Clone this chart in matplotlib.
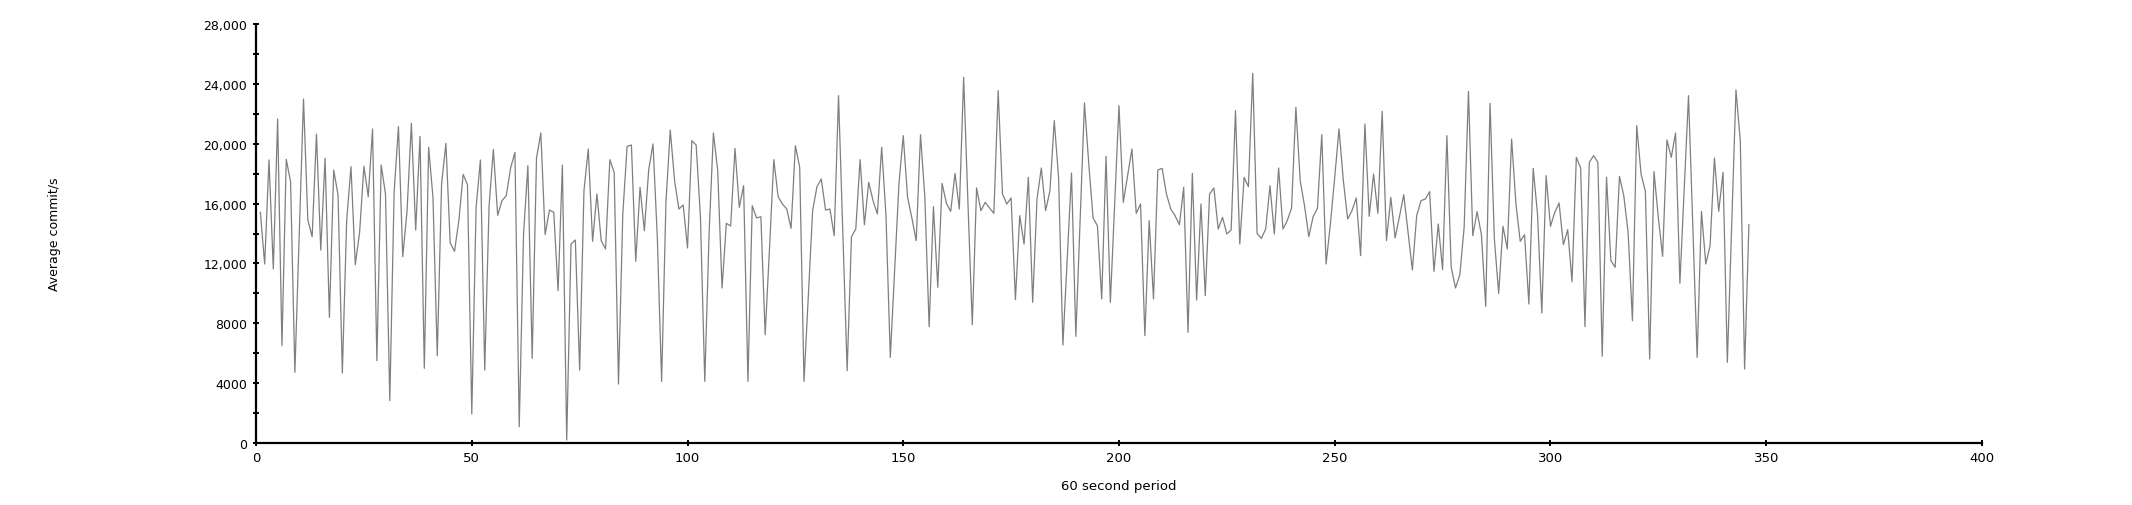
import numpy as np
import matplotlib
matplotlib.use("Agg")
import matplotlib.pyplot as plt
from matplotlib.ticker import FuncFormatter, MultipleLocator

# Average commits per second for each 60 second period
commits = [
    15415, 11962, 18912, 11628, 21652, 6504, 18957, 17464, 4722, 13800,
    22988, 14902, 13788, 20649, 12897, 19023, 8397, 18243, 16573, 4678,
    14857, 18467, 11917, 14078, 18489, 16462, 20983, 5502, 18578, 16640,
    2829, 16751, 21139, 12452, 15526, 21362, 14234, 20493, 4989, 19758,
    16417, 5836, 17308, 20025, 13365, 12808, 14857, 17954, 17264, 1938,
    15749, 18912, 4878, 15793, 19624, 15214, 16194, 16528, 18377, 19423,
    1091, 13967, 18533, 5658, 19045, 20716, 13922, 15570, 15415, 10180,
    18578, 200, 13298, 13566, 4878, 16862, 19647, 13477, 16640, 13521,
    12964, 18935, 18087, 3943, 15303, 19825, 19914, 12140, 17085, 14189,
    18243, 19981, 13744, 4121, 16083, 20917, 17531, 15637, 15905, 13031,
    20204, 19914, 15080, 4121, 14000, 20716, 18199, 10358, 14679, 14501,
    19691, 15749, 17197, 4121, 15860, 15036, 15125, 7240, 13000, 18935,
    16462, 15972, 15637, 14345, 19870, 18422, 4121, 9800, 15526, 17130,
    17642, 15570, 15637, 13855, 23212, 14000, 4834, 13788, 14300, 18935,
    14590, 17419, 16194, 15303, 19758, 15192, 5725, 11500, 17308, 20538,
    16417, 15036, 13521, 20605, 16462, 7774, 15793, 10402, 17352, 16015,
    15481, 18020, 15637, 24436, 16000, 7908, 17041, 15526, 16083, 15704,
    15348, 23545, 16640, 15972, 16373, 9578, 15192, 13298, 17753, 9400,
    16306, 18377, 15526, 16862, 21540, 17753, 6549, 12300, 18043, 7128,
    14900, 22721, 18645, 15036, 14523, 9623, 19156, 9400, 16000, 22543,
    16083, 17866, 19647, 15348, 15972, 7173, 14857, 9623, 18243, 18354,
    16640, 15637, 15192, 14590, 17085, 7395, 18020, 9556, 15972, 9846,
    16640, 17041, 14301, 15080, 13967, 14234, 22209, 13298, 17753, 17130,
    24703, 14011, 13677, 14301, 17197, 13967, 18377, 14301, 14857, 15704,
    22431, 17531, 15860, 13788, 15125, 15682, 20605, 11962, 14635, 17753,
    20983, 17531, 14969, 15526, 16373, 12519, 21318, 15147, 17976, 15348,
    22164, 13521, 16417, 13699, 15125, 16595, 14078, 11561, 15192, 16194,
    16306, 16796, 11472, 14635, 11583, 20538, 11739, 10358, 11249, 14412,
    23501, 13855, 15459, 13922, 9133, 22699, 13633, 10001, 14479, 12964,
    20315, 15972, 13477, 13922, 9289, 18354, 15303, 8687, 17866, 14479,
    15415, 16038, 13254, 14256, 10781, 19090, 18377, 7774, 18756, 19201,
    18756, 5792, 17753, 12185, 11739, 17820, 16528, 14078, 8175, 21206,
    17976, 16818, 5613, 18132, 15080, 12474, 20248, 19090, 20716, 10670,
    17000, 23212, 14500, 5725, 15481, 11962, 13187, 19045, 15481, 18087,
    5390, 14500, 23590, 20204, 4945, 14590,
]
periods = np.arange(1, len(commits) + 1)

x_label = "60 second period"
y_label = "Average commit/s"


def y_fmt(v, pos):
    # no thousands separator below 10,000
    if v >= 10000:
        return f"{int(v):,}"
    return f"{int(v)}"


fig = plt.figure(figsize=(21.32, 5.06), dpi=100)
ax = fig.add_axes([0.1201, 0.1225, 0.8095, 0.8281])

ax.plot(periods, commits, color="#7f7f7f", linewidth=0.9)

ax.set_xlim(0, 400)
ax.set_ylim(0, 28000)
ax.xaxis.set_major_locator(MultipleLocator(50))
ax.yaxis.set_major_locator(MultipleLocator(4000))
ax.yaxis.set_minor_locator(MultipleLocator(2000))
ax.yaxis.set_major_formatter(FuncFormatter(y_fmt))

# only left/bottom axes, thick black
for side in ["top", "right"]:
    ax.spines[side].set_visible(False)
for side in ["left", "bottom"]:
    ax.spines[side].set_linewidth(1.6)
    ax.spines[side].set_color("black")

ax.tick_params(axis="both", which="both", direction="inout", length=5,
               width=1.4, color="black")
ax.tick_params(axis="y", which="major", labelsize=9, pad=4)
ax.tick_params(axis="x", which="major", labelsize=9.5, pad=3)
for lbl in ax.get_xticklabels():
    lbl.set_family(["Liberation Sans Narrow", "DejaVu Sans"])

ax.set_xlabel(x_label, fontsize=9.5, family=["Liberation Sans Narrow", "DejaVu Sans"])
ax.xaxis.set_label_coords(0.5, -0.085)
ax.set_ylabel(y_label, fontsize=9)
ax.yaxis.set_label_coords(-0.113, 0.5)

fig.savefig("out.png", dpi=100)
